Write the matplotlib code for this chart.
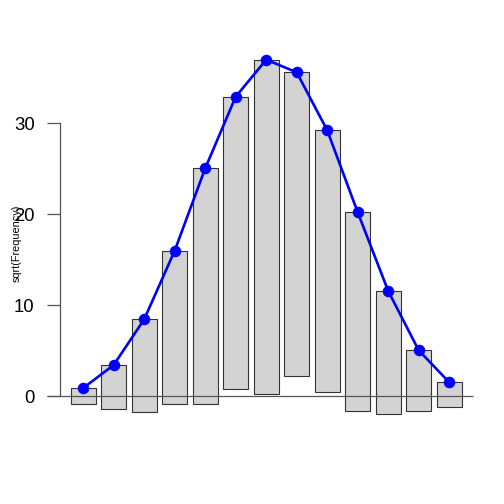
import numpy as np
import matplotlib
matplotlib.use("Agg")
import matplotlib.pyplot as plt

# Hanging rootogram data (sqrt scale)
bins = np.arange(1, 14)
fitted = [0.91, 3.44, 8.46, 16.0, 25.05, 32.92, 36.99, 35.6, 29.23, 20.22, 11.57, 5.05, 1.54]
bottoms = [-0.81, -1.43, -1.76, -0.88, -0.88, 0.77, 0.29, 2.2, 0.44, -1.65, -1.98, -1.65, -1.18]
observed = [f - b for f, b in zip(fitted, bottoms)]
yticks = [0, 10, 20, 30]

plt.rcParams['font.family'] = ['Liberation Sans', 'DejaVu Sans']

fig = plt.figure(figsize=(5.04, 5.04), dpi=100)
ax = fig.add_axes([0, 0, 1, 1])

# pixel mapping: x_px = 83.2 + (i-1)*30.5 ; y_px = 396.3 - v*9.1
def px2x(p):
    return 1 + (p - 83.2) / 30.5

ax.set_xlim(px2x(0), px2x(504))
ax.set_ylim((396.3 - 504) / 9.1, 396.3 / 9.1)

ax.bar(bins, observed, bottom=bottoms, width=0.81, color='#D3D3D3',
       edgecolor='#333333', linewidth=0.8, zorder=2)
ax.hlines(0, px2x(47), px2x(473), color='#555555', linewidth=0.9, zorder=3)
ax.plot(bins, fitted, color='#0000FF', linewidth=1.9, marker='o',
        markersize=7.3, zorder=4)

for s in ['top', 'right', 'bottom']:
    ax.spines[s].set_visible(False)
ax.spines['left'].set_position(('data', px2x(60)))
ax.spines['left'].set_bounds(0, 30)
ax.spines['left'].set_color('#555555')
ax.spines['left'].set_linewidth(0.9)
ax.set_xticks([])
ax.set_yticks(yticks)
ax.set_yticklabels([str(t) for t in yticks], fontsize=13.3)
ax.tick_params(axis='y', length=9.4, width=0.9, color='#555555', pad=8.8)

fig.text(17 / 504, 1 - 243 / 504, 'sqrt(Frequency)', rotation=90,
         ha='center', va='center', fontsize=7.8)

fig.savefig('out.png', dpi=100)
